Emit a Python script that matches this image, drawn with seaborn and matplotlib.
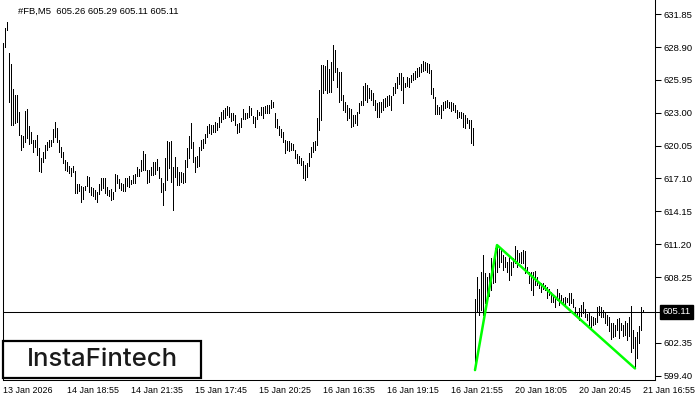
import numpy as np
import pandas as pd
import matplotlib
matplotlib.use('Agg')
import matplotlib.pyplot as plt
import seaborn as sns
from matplotlib.patches import Rectangle
from matplotlib.transforms import blended_transform_factory

# ============================================================
# DATA  (#FB, M5 bars - high / low)
# ============================================================

# 13-16 Jan session
high_wk1 = [629.27, 630.62, 631.19, 628.40, 627.40, 625.10, 624.60, 624.60, 623.10, 621.00,
            620.90, 623.20, 623.30, 621.80, 621.30, 620.60, 620.60, 621.00, 619.80, 618.90,
            619.50, 620.10, 620.40, 620.60, 620.60, 621.50, 622.20, 621.60, 620.55, 619.95,
            619.50, 618.80, 618.60, 618.20, 618.05, 618.20, 617.80, 616.60, 616.60, 616.40,
            616.30, 616.40, 617.30, 617.20, 616.30, 616.20, 616.10, 615.90, 616.60, 617.10,
            617.10, 617.10, 616.30, 616.10,
            616.15, 615.91, 617.50, 617.41, 617.05, 616.66, 616.57, 617.11, 617.17, 617.35,
            616.96, 617.41, 617.50, 618.16, 617.95, 618.76, 619.57, 619.30, 617.86, 617.86,
            618.16, 618.55, 618.61, 618.85, 618.16, 617.11, 616.66, 618.91, 620.47, 620.35,
            620.47, 618.16, 619.06, 618.16, 617.65, 617.65, 617.56, 618.76, 619.81, 620.95,
            622.05, 620.41, 619.06, 619.12, 619.96, 620.56, 620.62, 621.07, 621.81, 621.96,
            621.90, 621.90,
            622.21, 622.12, 622.66, 623.10, 623.25, 623.40, 623.61, 623.55, 623.01, 622.96,
            622.81, 621.97, 622.12, 622.57, 623.31, 623.01, 622.96, 623.61, 623.40, 622.72,
            622.60, 623.25, 623.10, 623.55, 623.55, 623.61, 623.70, 623.70, 624.15, 624.00,
            623.01, 622.42, 621.82, 621.52, 621.31, 620.56, 620.47, 620.50, 620.26, 620.20,
            619.66, 619.30, 619.12, 618.91, 618.70, 618.31, 618.46, 619.36, 619.96, 620.41,
            620.50, 622.51,
            625.05, 627.29, 627.29, 627.20, 627.74, 626.90, 627.59, 629.09, 628.64, 626.99,
            626.70, 626.70, 624.60, 624.00, 623.70, 623.40, 623.31, 622.80, 622.80, 623.10,
            623.85, 624.09, 625.41, 625.71, 625.50, 625.20, 625.05, 624.75, 624.15, 623.85,
            624.00, 624.00, 624.21, 624.30, 624.51, 624.60, 624.51, 625.35, 625.65, 626.25,
            626.55, 626.55, 626.25, 625.71, 626.25, 626.10, 626.40, 626.55, 626.79, 627.00,
            627.08,
            627.35, 627.65, 627.59, 627.44, 627.35, 626.84, 625.20, 624.45, 623.70, 623.55,
            623.70, 624.00, 624.06, 624.15, 624.00, 624.00, 623.85, 623.70, 623.25, 623.04,
            623.10, 622.95, 622.80, 622.50, 622.35, 622.35, 621.66]

low_wk1 = [628.73, 628.94, 630.44, 623.94, 621.90, 621.90, 622.10, 622.20, 621.00, 619.70,
           619.90, 620.40, 620.70, 620.20, 620.30, 619.50, 619.90, 619.20, 617.80, 617.70,
           618.60, 618.90, 619.70, 619.90, 620.00, 620.40, 620.85, 620.40, 619.50, 619.05,
           618.50, 617.90, 617.75, 617.60, 617.35, 617.70, 615.80, 615.80, 616.00, 615.00,
           615.30, 616.10, 616.40, 615.90, 615.60, 615.50, 615.30, 615.00, 615.70, 616.10,
           616.20, 615.80, 615.60, 615.50,
           615.17, 615.26, 615.97, 616.66, 616.21, 616.06, 615.97, 615.97, 616.45, 616.36,
           616.57, 616.66, 616.66, 617.35, 617.35, 617.77, 617.86, 617.86, 616.66, 616.75,
           617.41, 617.41, 617.47, 617.86, 617.11, 615.91, 614.72, 616.06, 616.96, 618.01,
           616.81, 614.27, 617.26, 616.51, 616.51, 616.75, 616.66, 616.81, 618.16, 618.91,
           619.81, 618.61, 617.71, 618.16, 618.25, 619.66, 619.81, 620.26, 620.86, 621.22,
           621.07, 621.31,
           621.31, 621.46, 621.76, 622.21, 622.42, 622.51, 622.81, 622.66, 622.30, 622.36,
           621.91, 621.16, 621.31, 621.76, 622.42, 622.42, 622.51, 622.66, 622.81, 622.06,
           621.76, 622.42, 622.81, 622.81, 622.51, 622.96, 622.96, 623.01, 623.40, 623.55,
           621.76, 621.61, 621.01, 620.86, 620.41, 619.36, 619.66, 619.60, 619.66, 619.66,
           618.91, 618.52, 618.52, 618.31, 617.11, 616.96, 617.26, 618.22, 619.06, 619.51,
           619.66, 620.11,
           621.45, 622.35, 624.75, 625.05, 624.75, 624.90, 624.90, 625.95, 626.70, 625.35,
           624.00, 624.15, 623.25, 623.10, 622.35, 622.50, 621.69, 621.81, 622.11, 621.90,
           622.95, 623.70, 623.70, 624.15, 624.00, 624.30, 624.15, 623.70, 623.25, 622.65,
           622.65, 623.10, 623.25, 623.55, 623.61, 623.70, 623.25, 624.60, 624.75, 625.20,
           625.59, 625.05, 623.85, 625.29, 625.41, 625.35, 625.80, 625.95, 626.01, 626.25,
           626.30,
           626.69, 626.75, 626.84, 626.63, 626.54, 624.66, 624.36, 622.86, 622.86, 622.86,
           622.56, 623.25, 623.40, 623.55, 623.40, 623.16, 623.25, 623.04, 622.56, 622.65,
           622.50, 621.75, 621.66, 622.05, 621.60, 620.25, 620.10]

# 20-21 Jan session
high_wk2 = [606.24, 608.28, 607.14, 608.73, 610.22, 608.58, 608.28, 608.64, 609.92, 609.48,
            610.82, 611.12, 610.82, 610.67, 610.22, 610.07, 609.62, 610.22, 609.62, 609.92,
            611.03, 610.67, 610.37, 610.52, 610.67, 610.61, 609.18, 608.73, 608.73, 608.73,
            608.82, 608.28, 607.83, 607.74, 607.68, 607.53, 607.38, 607.14, 606.93, 606.63,
            606.33, 607.14, 606.78, 606.63, 606.33, 606.48, 606.33, 606.78, 606.84, 606.24,
            605.52, 605.13, 605.43, 605.73, 606.03, 605.34, 604.92, 604.98, 604.74, 604.62,
            604.53, 605.52, 605.64, 605.58, 605.28, 604.98, 604.83, 604.68, 604.08, 604.08,
            603.93, 604.44, 604.53, 604.14, 603.93, 604.32, 604.08, 604.62, 605.64, 603.48,
            602.89, 603.34, 603.84, 605.58, 605.29]

low_wk2 = [599.89, 605.13, 604.83, 605.28, 604.83, 605.88, 606.48, 606.54, 607.08, 607.68,
           607.83, 608.73, 609.18, 609.62, 608.88, 609.18, 608.73, 607.98, 608.43, 609.18,
           609.48, 609.18, 609.62, 609.48, 609.48, 608.58, 608.73, 607.68, 607.08, 606.63,
           607.53, 607.53, 607.23, 606.93, 607.14, 607.08, 606.33, 606.63, 606.03, 606.03,
           605.52, 606.18, 605.73, 606.03, 605.88, 605.73, 606.03, 605.73, 605.88, 605.52,
           604.83, 604.68, 604.38, 604.74, 604.98, 604.62, 604.38, 603.93, 603.78, 603.93,
           604.02, 604.23, 604.83, 604.68, 604.62, 604.08, 603.93, 603.42, 602.65, 602.83,
           602.95, 603.48, 602.74, 603.48, 602.95, 603.04, 602.59, 602.95, 601.54, 601.84,
           600.04, 600.94, 602.29, 603.48, 605.11]

# pattern pivots inside the 20-21 Jan session (bar offsets)
pattern_bars = [0, 11, 80]

last_price = 605.11
header = '#FB,M5  605.26 605.29 605.11 605.11'

price_ticks = [631.85, 628.90, 625.95, 623.00, 620.05, 617.10, 614.15, 611.20, 608.25, 602.35, 599.40]
time_labels = ['13 Jan 2026', '14 Jan 18:55', '14 Jan 21:35', '15 Jan 17:45', '15 Jan 20:25',
               '16 Jan 16:35', '16 Jan 19:15', '16 Jan 21:55', '20 Jan 18:05', '20 Jan 20:45',
               '21 Jan 16:55']
time_ticks = [0, 32, 64, 96, 128, 160, 192, 224, 256, 288, 320]

# ============================================================
# BUILD FRAMES
# ============================================================

bars = pd.DataFrame({'high': high_wk1 + high_wk2, 'low': low_wk1 + low_wk2})
bars['bar'] = np.arange(len(bars))
long = bars.melt(id_vars='bar', value_vars=['high', 'low'], value_name='price')

start = len(high_wk1)
pattern = pd.DataFrame({
    'bar': [start + b for b in pattern_bars],
    'price': [low_wk2[pattern_bars[0]], high_wk2[pattern_bars[1]], low_wk2[pattern_bars[2]]],
})

# ============================================================
# PLOT
# ============================================================

sns.set_style('white')
plt.rcParams['font.family'] = ['Liberation Sans', 'DejaVu Sans']

fig = plt.figure(figsize=(7, 4), dpi=100)
ax = fig.add_axes([3 / 700, 20 / 400, 652 / 700, 380 / 400])

sns.lineplot(data=long, x='bar', y='price', units='bar', estimator=None,
             color='black', linewidth=0.5, antialiased=False, solid_capstyle='butt',
             legend=False, ax=ax)
sns.lineplot(data=pattern, x='bar', y='price', color='#00ff00', linewidth=1.8,
             sort=False, legend=False, ax=ax, zorder=4)

ax.axhline(last_price, xmin=0, xmax=1.012, color='black', lw=0.75, clip_on=False, zorder=3)

ax.set_xlim(0, 326)
ax.set_ylim(599.0, 633.13)
ax.set_xlabel('')
ax.set_ylabel('')

for side in ['left', 'right', 'bottom']:
    ax.spines[side].set_color('black')
    ax.spines[side].set_linewidth(0.75)
ax.spines['top'].set_visible(False)
ax.spines['left'].set_bounds(599.0, 629.25)

ax.set_xticks(time_ticks, time_labels)
for lbl in ax.get_xticklabels():
    lbl.set_ha('left')
ax.tick_params(axis='x', length=3, width=0.75, pad=1.5, labelsize=6.4, colors='black')

ax.yaxis.tick_right()
ax.set_yticks(price_ticks, [f'{v:.2f}' for v in price_ticks])
ax.tick_params(axis='y', length=4, width=0.75, pad=2, labelsize=6.8, colors='black')

# current price tag
tr = blended_transform_factory(ax.transAxes, ax.transData)
ax.text(1.011, last_price, f'{last_price:.2f}', transform=tr, color='white', fontsize=6.8,
        ha='left', va='center', clip_on=False, zorder=6,
        bbox=dict(boxstyle='square,pad=0.25', fc='black', ec='black'))

fig.text(18 / 700, 1 - 11 / 400, header, fontsize=6.8, ha='left', va='center', color='black')

# logo box
fig.add_artist(Rectangle((3 / 700, 22 / 400), 198 / 700, 37 / 400, transform=fig.transFigure,
                         fc='white', ec='black', lw=1.6, zorder=10))
fig.text(102 / 700, 1 - 359 / 400, 'InstaFintech', fontsize=18.5, family=['Inter', 'DejaVu Sans'],
         fontweight='medium', ha='center', va='center', color='#1a1a1a', zorder=11)

fig.savefig('out.png', dpi=100)
